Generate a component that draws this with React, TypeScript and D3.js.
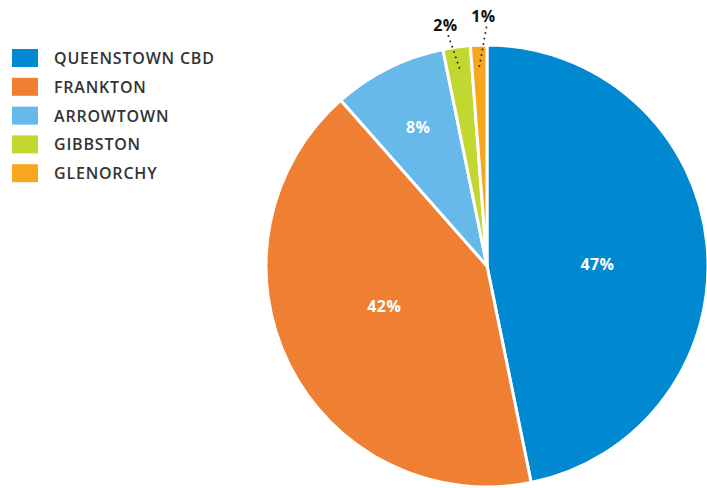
import React from "react";
import * as d3 from "d3";

const categories = ["QUEENSTOWN CBD", "FRANKTON", "ARROWTOWN", "GIBBSTON", "GLENORCHY"];
const values = [46.8, 41.7, 8.3, 2.0, 1.2];
const labels = ["47%", "42%", "8%", "2%", "1%"];
const colors = ["#0088D1", "#EE7F33", "#66B9E8", "#C2D72F", "#F6A71F"];

const W = 707;
const H = 488;
const cx = 487;
const cy = 266;
const R = 221;

export default function App() {
  const pie = d3.pie<number>().value((d) => d).sort(null);
  const arcs = pie(values);
  const arc = d3.arc<d3.PieArcDatum<number>>().innerRadius(0).outerRadius(R);
  const pt = (a: number, r: number) => [Math.sin(a) * r, -Math.cos(a) * r];
  let smallIdx = 0;
  return (
    <svg width={W} height={H} style={{ position: "absolute", left: 0, top: 0, fontFamily: "'Open Sans', Lato, sans-serif" }}>
      <rect width={W} height={H} fill="#fff" />
      {categories.map((c, i) => (
        <g key={c} transform={`translate(12, ${49 + i * 28.8})`}>
          <rect width={26} height={18} fill={colors[i]} />
          <text x={42} y={15} fontSize={16} fontWeight={600} fill="#333" letterSpacing={0.8}>
            {c}
          </text>
        </g>
      ))}
      <g transform={`translate(${cx},${cy})`}>
        {arcs.map((a, i) => (
          <path key={i} d={arc(a) || ""} fill={colors[i]} stroke="#fff" strokeWidth={3} strokeLinejoin="round" />
        ))}
        {arcs.map((a, i) => {
          const mid = (a.startAngle + a.endAngle) / 2;
          const pct = values[i];
          if (pct >= 5) {
            const big = pct > 20;
            const lr = big ? R * 0.5 : R * 0.7;
            const [x, y] = pt(big ? mid + 0.085 : mid, lr);
            return (
              <text key={i} x={x} y={y} dy="0.35em" textAnchor="middle" fill="#fff" fontSize={16} fontWeight={700} letterSpacing={0.4}>
                {labels[i]}
              </text>
            );
          }
          const j = smallIdx++;
          const [sx, sy] = pt(mid, R * 0.905);
          const ex = sx + (j === 0 ? -11 : 7);
          const ey = 36 - cy - j * 9;
          return (
            <g key={i}>
              <line x1={sx} y1={sy} x2={ex} y2={ey} stroke="#333" strokeWidth={2} strokeDasharray="0.1 5.5" strokeLinecap="round" />
              <text x={ex - 3} y={ey - 5} textAnchor="middle" fill="#111" fontSize={16} fontWeight={700} letterSpacing={0.4}>
                {labels[i]}
              </text>
            </g>
          );
        })}
      </g>
    </svg>
  );
}
